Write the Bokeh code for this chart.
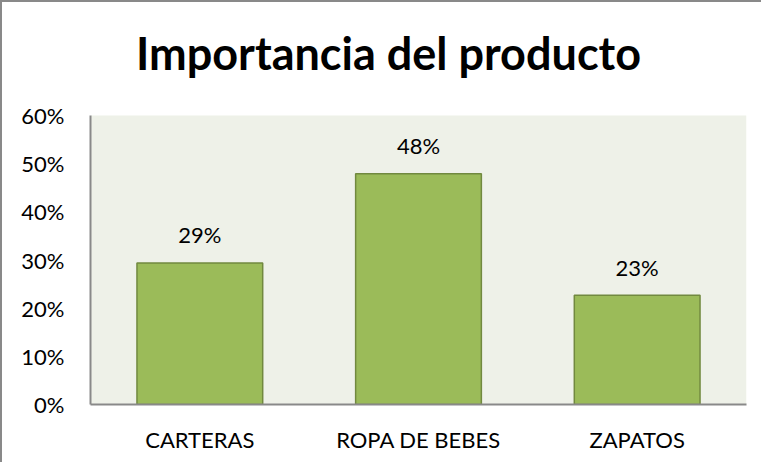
from bokeh.plotting import figure
from bokeh.models import (ColumnDataSource, NumeralTickFormatter, FixedTicker, Label,
                          Range1d, BoxAnnotation)
from bokeh.core.properties import value
from bokeh.embed import file_html
from bokeh.resources import INLINE

title_text = "Importancia del producto"
categories = ["CARTERAS", "ROPA DE BEBES", "ZAPATOS"]
values = [0.294, 0.479, 0.227]
labels = ["29%", "48%", "23%"]
y_ticks = [0, 0.1, 0.2, 0.3, 0.4, 0.5, 0.6]

FONT = "Lato"

W, H = 761, 462
TOP_SPACE, BOTTOM = 113, 60
y_max = y_ticks[-1]
plot_h = H - TOP_SPACE - BOTTOM
y_end = y_max * (H - BOTTOM) / plot_h

src = ColumnDataSource(dict(cat=categories, val=values, lab=labels))

p = figure(x_range=categories, y_range=Range1d(0, y_end), width=W, height=H,
           output_backend="svg", toolbar_location=None,
           min_border_left=88, min_border_right=17, min_border_top=0, min_border_bottom=BOTTOM)
p.styles = {"border-top": "2px solid #898989", "border-left": "2px solid #898989"}
p.x_range.range_padding = 0

p.background_fill_color = "white"
p.border_fill_color = "white"
p.outline_line_color = None
p.grid.visible = False

area = BoxAnnotation(bottom=0, top=y_max, fill_color="#EEF1E8", fill_alpha=1.0,
                     line_color=None, level="underlay")
p.add_layout(area)

p.vbar(x="cat", top="val", width=0.575, source=src, fill_color="#9BBB59",
       line_color="#71893F", line_width=1.5)
p.text(x="cat", y="val", text="lab", source=src, text_align="center",
       text_baseline="alphabetic", y_offset=-28, text_font=value(FONT),
       text_font_size="22px", text_color="#000000")

title = Label(x=1.5, y=y_max, text=title_text, text_align="center",
              text_baseline="alphabetic", x_offset=-30, y_offset=63,
              text_font=FONT, text_font_size="45px", text_font_style="bold",
              text_color="#000000")
p.add_layout(title)

p.yaxis.ticker = FixedTicker(ticks=y_ticks)
p.yaxis.formatter = NumeralTickFormatter(format="0%")
p.yaxis.bounds = (0, y_max)
for ax in (p.xaxis, p.yaxis):
    ax.axis_line_color = "#898989"
    ax.axis_line_width = 2
    ax.major_tick_line_color = None
    ax.minor_tick_line_color = None
    ax.major_label_text_font = FONT
    ax.major_label_text_font_size = "22px"
    ax.major_label_text_color = "#000000"
p.yaxis.major_label_standoff = 20
p.xaxis.major_label_standoff = 15

open("out.html", "w").write(file_html(p, INLINE))
